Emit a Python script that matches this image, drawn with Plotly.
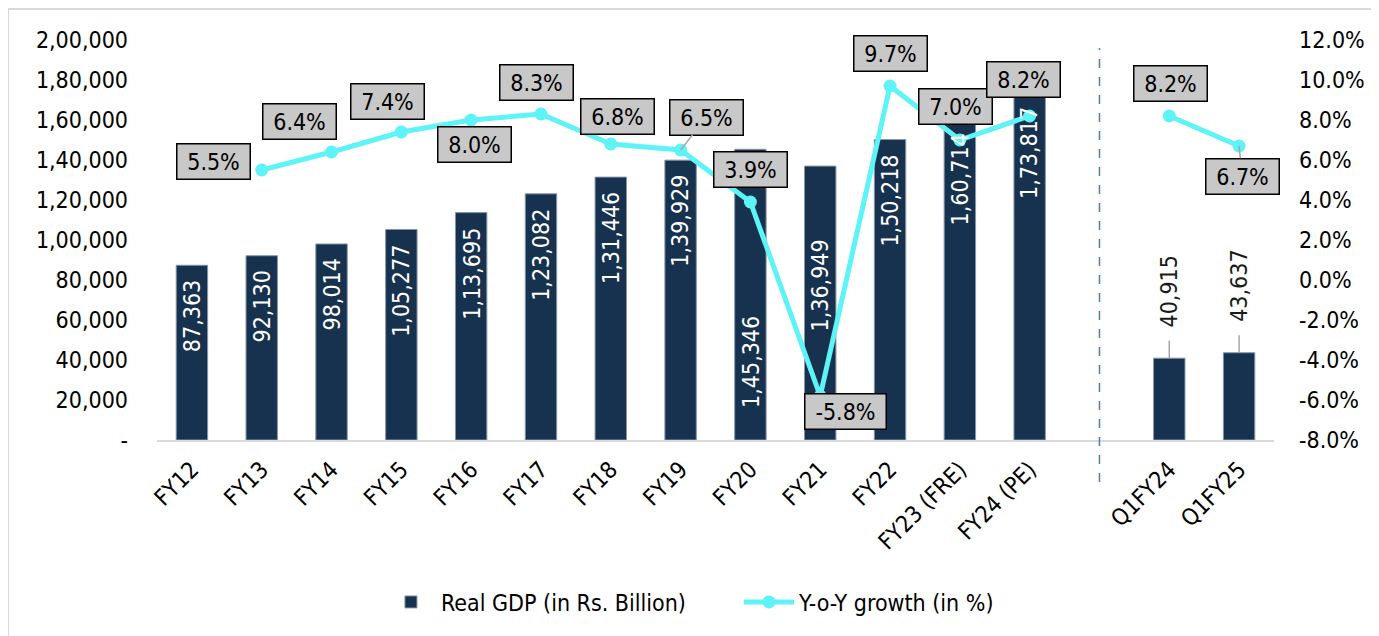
import plotly.graph_objects as go

# ---------------- data ----------------
categories = ["FY12", "FY13", "FY14", "FY15", "FY16", "FY17", "FY18", "FY19",
              "FY20", "FY21", "FY22", "FY23 (FRE)", "FY24 (PE)", "Q1FY24", "Q1FY25"]
real_gdp = [87363, 92130, 98014, 105277, 113695, 123082, 131446, 139929,
            145346, 136949, 150218, 160714, 173817, 40915, 43637]
yoy_growth = [None, 5.5, 6.4, 7.4, 8.0, 8.3, 6.8, 6.5, 3.9, -5.8, 9.7, 7.0, 8.2, 8.2, 6.7]
gdp_ticks = [0, 20000, 40000, 60000, 80000, 100000, 120000, 140000, 160000, 180000, 200000]
growth_ticks = [-8, -6, -4, -2, 0, 2, 4, 6, 8, 10, 12]

# ---------------- styling ----------------
FONT = "DejaVu Sans Condensed, DejaVu Sans, sans-serif"
FS = 23
BAR_COLOR = "#17324f"
LINE_COLOR = "#5ef3f7"
GAP_INDEX = 13  # empty slot between annual and quarterly data
SHIFT = 8       # page body margin compensation

# label box offsets (px) for growth labels, relative to each point
growth_label_offsets = {
    "FY13": (-48, -9), "FY14": (-32, -31), "FY15": (-14, -31), "FY16": (3, 24),
    "FY17": (-4, -32), "FY18": (7, -28), "FY19": (26, -33), "FY20": (0, -33),
    "FY21": (25, 15), "FY22": (0, -33), "FY23 (FRE)": (-4, -34), "FY24 (PE)": (-6, -37),
    "Q1FY24": (1, -33), "Q1FY25": (3, 30),
}
leader_labels = {"FY19", "Q1FY25"}
# bar labels that are placed by hand (fraction of bar height for label centre)
moved_bar_labels = {"FY20": 0.27, "FY21": 0.565}
outside_bar_labels = {"Q1FY24", "Q1FY25"}


def indian(n):
    s = str(int(n))
    if len(s) <= 3:
        return s
    last3 = s[-3:]
    rest = s[:-3]
    parts = []
    while len(rest) > 2:
        parts.insert(0, rest[-2:])
        rest = rest[:-2]
    if rest:
        parts.insert(0, rest)
    return ",".join(parts) + "," + last3


xpos = [i if i < GAP_INDEX else i + 1 for i in range(len(categories))]

fig = go.Figure()
fig.add_trace(go.Bar(
    x=xpos, y=real_gdp, name="Real GDP (in Rs. Billion)",
    marker=dict(color=BAR_COLOR, line=dict(color="#8596ab", width=1)),
    width=0.45, cliponaxis=False, hoverinfo="skip",
))

# line with break at the gap
lx, ly = [], []
for p, g in zip(xpos, yoy_growth):
    if p == GAP_INDEX + 1:
        lx.append(GAP_INDEX)
        ly.append(None)
    lx.append(p)
    ly.append(g)

fig.add_trace(go.Scatter(
    x=lx, y=ly, yaxis="y2", name="Y-o-Y growth (in %)", mode="lines+markers",
    line=dict(color=LINE_COLOR, width=5), marker=dict(color=LINE_COLOR, size=13),
    connectgaps=False, cliponaxis=False, hoverinfo="skip",
))

annotations = []
# bar value labels
for c, p, v in zip(categories, xpos, real_gdp):
    if c in moved_bar_labels:
        annotations.append(dict(
            x=p, y=v * moved_bar_labels[c], xref="x", yref="y", text=indian(v),
            showarrow=False, textangle=-90, yanchor="middle",
            font=dict(family=FONT, size=FS, color="white"),
        ))
    elif c in outside_bar_labels:
        annotations.append(dict(
            x=p, y=v, xref="x", yref="y", text=indian(v), showarrow=True,
            ax=0, ay=-67, axref="pixel", ayref="pixel", textangle=-90,
            arrowhead=0, arrowwidth=1.5, arrowcolor="#a6a6a6", standoff=0,
            startstandoff=12,
            font=dict(family=FONT, size=FS, color="#1a1a1a"),
        ))
    else:
        annotations.append(dict(
            x=p, y=v, xref="x", yref="y", text=indian(v), showarrow=False,
            textangle=-90, yanchor="top", yshift=-13,
            font=dict(family=FONT, size=FS, color="white"),
        ))

# growth labels
for c, p, g in zip(categories, xpos, yoy_growth):
    if g is None:
        continue
    ax, ay = growth_label_offsets[c]
    txt = f"{g:.1f}%"
    annotations.append(dict(
        x=p, y=g, xref="x", yref="y2", text=txt, showarrow=True,
        ax=ax, ay=ay, axref="pixel", ayref="pixel",
        arrowhead=0, arrowwidth=1.5, standoff=0,
        arrowcolor="#a6a6a6" if c in leader_labels else "rgba(0,0,0,0)",
        bgcolor="#c8c8c8", bordercolor="#000000", borderwidth=1.5, borderpad=4,
        width=64 if not txt.startswith("-") else 72,
        font=dict(family=FONT, size=FS, color="#000000"),
    ))

shapes = [
    # separator between annual and quarterly
    dict(type="line", xref="x", yref="paper", x0=GAP_INDEX, x1=GAP_INDEX,
         y0=-0.105, y1=0.98, line=dict(color="#4f7fa6", width=1.5, dash="dash")),
    # chart frame (left and top visible)
    dict(type="line", xref="paper", yref="paper", x0=-0.1334, x1=-0.1334,
         y0=1.0775, y1=-0.7, line=dict(color="#d9d9d9", width=2)),
    dict(type="line", xref="paper", yref="paper", x0=-0.1334, x1=1.3,
         y0=1.0775, y1=1.0775, line=dict(color="#d9d9d9", width=2)),
]

fig.update_layout(
    width=1379, height=636,
    margin=dict(l=157 - SHIFT, r=105 + SHIFT, t=40 - SHIFT, b=196 + SHIFT, autoexpand=False),
    paper_bgcolor="white", plot_bgcolor="white",
    font=dict(family=FONT, size=FS, color="#000000"),
    showlegend=True,
    legend=dict(orientation="h", x=0.521, xanchor="center", y=-0.405, yanchor="middle",
                font=dict(family=FONT, size=FS), traceorder="normal", itemwidth=50,
                entrywidth=293),
    xaxis=dict(
        range=[-0.5, 15.5], tickmode="array", tickvals=xpos, ticktext=categories,
        tickangle=-45, showgrid=False, zeroline=False, showline=True,
        linecolor="#d9d9d9", linewidth=2, ticks="", tickfont=dict(size=FS),
        ticklabelstandoff=5, automargin=False,
    ),
    yaxis=dict(
        range=[0, 200000], tickmode="array", tickvals=gdp_ticks,
        ticktext=["-" if t == 0 else indian(t) for t in gdp_ticks],
        showgrid=False, zeroline=False, showline=False, ticks="",
        ticklabelstandoff=28, tickfont=dict(size=FS), automargin=False,
    ),
    yaxis2=dict(
        range=[-8, 12], overlaying="y", side="right", tickmode="array",
        tickvals=growth_ticks, ticktext=[f"{t:.1f}%" for t in growth_ticks],
        showgrid=False, zeroline=False, showline=False, ticks="",
        ticklabelstandoff=24, tickfont=dict(size=FS), automargin=False,
    ),
    annotations=annotations,
    shapes=shapes,
)

fig.write_html("out.html")
